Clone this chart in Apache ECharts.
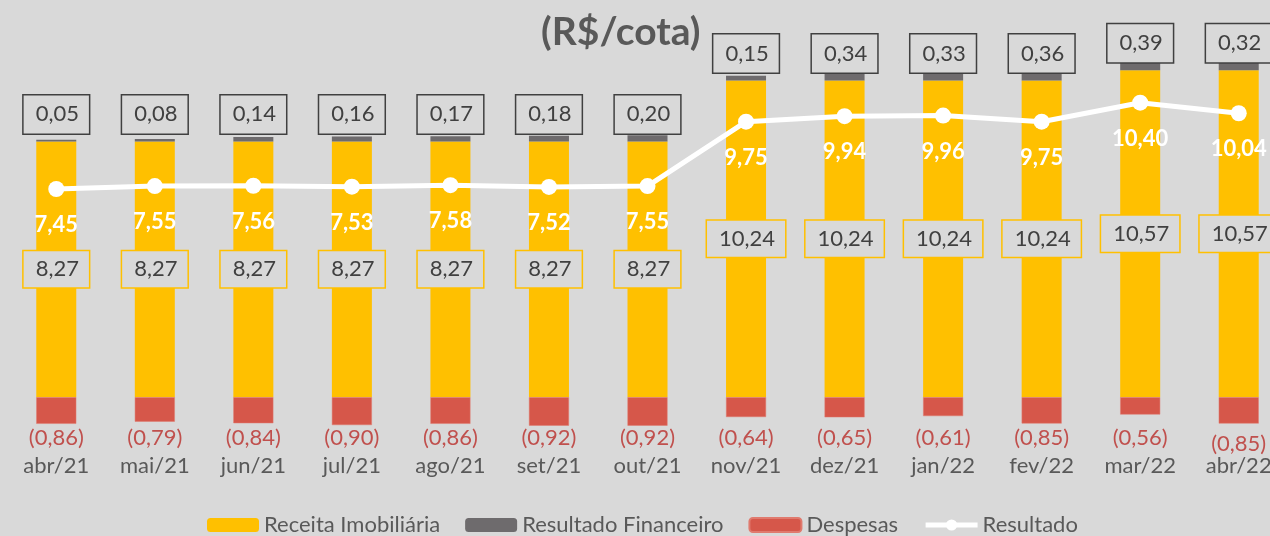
<!DOCTYPE html>
<html>
<head>
<meta charset="utf-8">
<script src="https://cdn.jsdelivr.net/npm/echarts@6/dist/echarts.min.js"></script>
<style>
html,body{margin:0;padding:0;background:#d9d9d9;}
#chart{width:1270px;height:536px;}
</style>
</head>
<body>
<div id="chart"></div>
<script>
const categories = ['abr/21','mai/21','jun/21','jul/21','ago/21','set/21','out/21','nov/21','dez/21','jan/22','fev/22','mar/22','abr/22'];
const receita = [8.27,8.27,8.27,8.27,8.27,8.27,8.27,10.24,10.24,10.24,10.24,10.57,10.57];
const financeiro = [0.05,0.08,0.14,0.16,0.17,0.18,0.20,0.15,0.34,0.33,0.36,0.39,0.32];
const despesas = [-0.86,-0.79,-0.84,-0.90,-0.86,-0.92,-0.92,-0.64,-0.65,-0.61,-0.85,-0.56,-0.85];
const resultado = [7.45,7.55,7.56,7.53,7.58,7.52,7.55,9.75,9.94,9.96,9.75,10.40,10.04];

const FONT = 'Lato';
const FS = 22;
const fmt = v => Math.abs(v).toFixed(2).replace('.', ',');

// last Despesas label sits a little lower in the original
const despesasData = despesas.map((v, i) =>
  i === despesas.length - 1 ? { value: v, label: { offset: [0, 6] } } : v);

const chart = echarts.init(document.getElementById('chart'));
chart.setOption({
  backgroundColor: '#d9d9d9',
  animation: false,
  textStyle: { fontFamily: FONT },
  title: {
    text: '(R$/cota)',
    left: 536, top: 8,
    textStyle: { fontFamily: FONT, fontSize: 39, fontWeight: 'bold', color: '#595959' }
  },
  legend: {
    left: 207, top: 514, padding: 0,
    itemWidth: 52, itemHeight: 14, itemGap: 25,
    textStyle: { fontFamily: FONT, fontSize: FS, color: '#595959' },
    lineStyle: { width: 5 },
    data: ['Receita Imobiliária','Resultado Financeiro','Despesas','Resultado']
  },
  grid: { left: 7, width: 1281, top: 26, bottom: 80, containLabel: false, outerBoundsMode: 'none' },
  xAxis: {
    type: 'category', data: categories,
    axisLine: { show: false, onZero: false }, axisTick: { show: false },
    axisLabel: { fontFamily: FONT, fontSize: FS, color: '#595959', margin: -1 }
  },
  yAxis: [
    { type: 'value', min: -1.9, max: 12, show: false, splitLine: { show: false } },
    { type: 'value', min: -1.679, max: 13.022, show: false, splitLine: { show: false } }
  ],
  series: [
    {
      name: 'Receita Imobiliária', type: 'bar', stack: 'a', barWidth: 40,
      data: receita, itemStyle: { color: '#ffc000' },
      label: {
        show: true, position: 'inside', formatter: p => fmt(p.value),
        fontFamily: FONT, fontSize: FS, color: '#404040',
        backgroundColor: '#d9d9d9', borderColor: '#ffc000', borderWidth: 1.5,
        padding: [7, 10, 7, 12]
      }
    },
    {
      name: 'Resultado Financeiro', type: 'bar', stack: 'a', barWidth: 40,
      data: financeiro, itemStyle: { color: '#6e6b6d' },
      label: {
        show: true, position: 'insideBottom', distance: 8, formatter: p => fmt(p.value),
        fontFamily: FONT, fontSize: FS, color: '#404040',
        backgroundColor: '#d9d9d9', borderColor: '#404040', borderWidth: 1.5,
        padding: [8, 10, 8, 12]
      }
    },
    {
      name: 'Despesas', type: 'bar', stack: 'a', barWidth: 40,
      data: despesasData, itemStyle: { color: '#d6574a', borderColor: '#e07a6e', borderWidth: 0.5 },
      label: {
        show: true, position: 'insideTop', distance: 30, formatter: p => '(' + fmt(p.value) + ')',
        fontFamily: FONT, fontSize: FS, color: '#c0504d'
      }
    },
    {
      name: 'Resultado', type: 'line', yAxisIndex: 1, data: resultado,
      symbol: 'circle', symbolSize: 16,
      lineStyle: { color: '#ffffff', width: 5 },
      itemStyle: { color: '#ffffff' },
      label: {
        show: true, position: 'inside', offset: [0, 36], formatter: p => fmt(p.value),
        fontFamily: FONT, fontSize: FS, fontWeight: 'bold', color: '#ffffff'
      },
      z: 5
    }
  ]
});
</script>
</body>
</html>
